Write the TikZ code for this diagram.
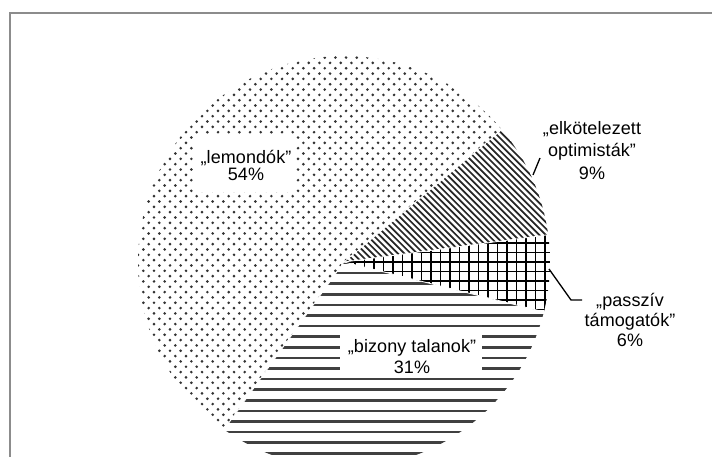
\documentclass[tikz,border=0pt]{standalone}
\usepackage{fontspec}
\setmainfont{Liberation Sans}[LetterSpace=0.5]
\begin{document}
\begin{tikzpicture}[x=1pt,y=1pt,
  lbl/.style={font=\fontsize{18}{20}\selectfont, anchor=base, inner sep=0pt},
  wbox/.style={fill=white, draw=none, inner sep=0pt},
  leader/.style={line width=1.3pt, black},
  sep/.style={white, line width=0.8pt},
  dotcol/.style={fill=black!80},
  diagline/.style={black!85, line width=1.7pt},
  gridline/.style={black, line width=1.7pt},
  hline/.style={black!75, line width=2.6pt},
  frame/.style={black!45, line width=2pt}]
\useasboundingbox (0,0) rectangle (712,456);
\fill[white] (0,0) rectangle (712,456);
\draw[frame] (10,443) rectangle (740,-30);
\coordinate (c) at (344,194);
\def\R{206}
% lemondok - dots
\begin{scope}
\clip (c) -- ++(40:\R) arc[start angle=40,end angle=234.4,radius=\R] -- cycle;
\foreach \j in {0,...,78}{
  \foreach \i in {0,...,36}{
    \fill[dotcol] ({138+\i*10.67+mod(\j,2)*5.33},{-12+\j*5.33}) circle[radius=1.45];
  }
}
\end{scope}
% elkotelezett - diagonal
\begin{scope}
\clip (c) -- ++(7.6:\R) arc[start angle=7.6,end angle=40,radius=\R] -- cycle;
\foreach \k in {0,...,58}{
  \draw[diagline] ({530+\k*6.4-360},360) -- ({530+\k*6.4-160},160);
}
\end{scope}
% passziv - grid
\begin{scope}
\clip (c) -- ++(-14:\R) arc[start angle=-14,end angle=7.6,radius=\R] -- cycle;
\foreach \k in {0,...,24}{
  \draw[gridline] ({336+\k*9.5},120) -- ({336+\k*9.5},235);
}
\foreach \k in {0,...,12}{
  \draw[gridline] (330,{118+\k*9.5}) -- (560,{118+\k*9.5});
}
\end{scope}
% bizonytalanok - horizontal
\begin{scope}
\clip (c) -- ++(-125.6:\R) arc[start angle=-125.6,end angle=-14,radius=\R] -- cycle;
\foreach \k in {0,...,18}{
  \draw[hline] (130,{2.7+\k*10.6}) -- (560,{2.7+\k*10.6});
}
\end{scope}
% separators
\draw[sep] (c) -- ++(40:\R);
\draw[sep] (c) -- ++(7.6:\R);
\draw[sep] (c) -- ++(-14:\R);
\draw[sep] (c) -- ++(-125.6:\R);
% labels inside
\node[wbox, minimum width=102pt, minimum height=55pt] (lembox) at (244,292) {};
\node[lbl] (lem1) at (246,292) {„lemondók”};
\node[lbl] (lem2) at (246,275.3) {54\%};
\node[wbox, minimum width=142pt, minimum height=51pt] (bizbox) at (411,103.5) {};
\node[lbl] (biz1) at (412,103.3) {„bizony talanok”};
\node[lbl] (biz2) at (412,83) {31\%};
% labels outside
\node[lbl] (elk1) at (592,321.5) {„elkötelezett};
\node[lbl] (elk2) at (592,299) {optimisták”};
\node[lbl] (elk3) at (592,276.5) {9\%};
\node[lbl] (pas1) at (630,150) {„passzív};
\node[lbl] (pas2) at (630,130) {támogatók”};
\node[lbl] (pas3) at (630,110) {6\%};
% leaders
\coordinate (elkA) at (533,281);
\coordinate (elkB) at (540,298);
\draw[leader] (elkA) -- (elkB);
\coordinate (pasA) at (549,187);
\coordinate (pasB) at (571,156);
\coordinate (pasC) at (582,156);
\draw[leader] (pasA) -- (pasB) -- (pasC);
\end{tikzpicture}
\end{document}
